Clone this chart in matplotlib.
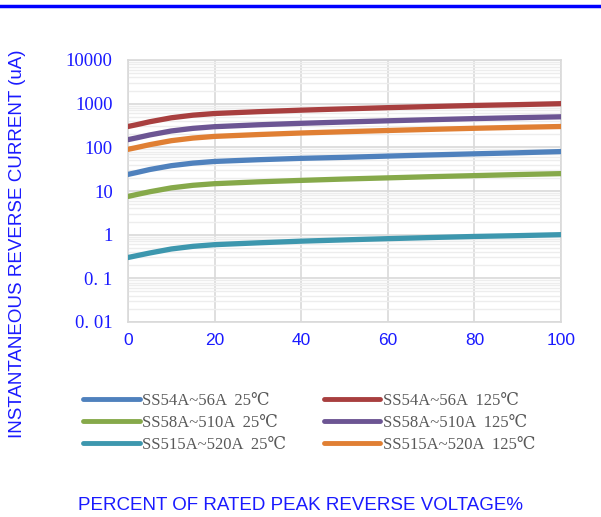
import numpy as np
import matplotlib
matplotlib.use("Agg")
import matplotlib.pyplot as plt
from matplotlib.ticker import LogLocator, FixedLocator, NullFormatter
from matplotlib.lines import Line2D

# percent of rated peak reverse voltage
volt_pct = [0, 2, 5, 10, 15, 20, 30, 40, 50, 60, 70, 80, 90, 100]

ss54_25 = [24, 26.5, 31, 38, 43.5, 47.5, 52, 56, 59, 63, 67, 71, 75, 80]
ss58_25 = [7.5, 8.3, 9.6, 11.8, 13.5, 14.7, 16.2, 17.5, 18.8, 20, 21.3, 22.5, 23.8, 25]
ss515_25 = [0.30, 0.33, 0.38, 0.47, 0.54, 0.59, 0.65, 0.71, 0.76, 0.81, 0.86, 0.91, 0.95, 1.0]
ss54_125 = [300, 330, 385, 475, 545, 595, 655, 710, 760, 810, 860, 910, 950, 1000]
ss58_125 = [150, 165, 192, 237, 272, 297, 328, 355, 380, 405, 430, 455, 478, 500]
ss515_125 = [90, 99, 115, 142, 163, 178, 196, 213, 228, 243, 258, 273, 287, 300]

labels = ["SS54A~56A  25\u2103", "SS58A~510A  25\u2103", "SS515A~520A  25\u2103",
          "SS54A~56A  125\u2103", "SS58A~510A  125\u2103", "SS515A~520A  125\u2103"]
series = [ss54_25, ss58_25, ss515_25, ss54_125, ss58_125, ss515_125]
colors = ["#4f81bd", "#86a94a", "#3d97ae", "#a83f3f", "#6c5593", "#e07f33"]

ytick_vals = [0.01, 0.1, 1, 10, 100, 1000, 10000]
ytick_labels = ["0. 01", "0. 1", "1", "10", "100", "1000", "10000"]
xtick_vals = [0, 20, 40, 60, 80, 100]

blue_txt = "#1a1aff"
serif = ["Liberation Serif", "DejaVu Serif"]

fig = plt.figure(figsize=(6.01, 5.17), dpi=100)
ax = fig.add_axes([128 / 601, 1 - 322 / 517, (561 - 128) / 601, (322 - 60) / 517])

for vals, c in zip(series, colors):
    ax.plot(volt_pct, vals, color=c, lw=3.8, solid_capstyle="round", zorder=3)

ax.set_yscale("log")
ax.set_ylim(0.01, 10000)
ax.set_xlim(0, 100)
ax.yaxis.set_major_locator(FixedLocator(ytick_vals))
ax.set_yticklabels(ytick_labels, family=serif, fontsize=13.5, color=blue_txt)
ax.yaxis.set_minor_locator(LogLocator(base=10, subs=np.arange(2, 10)))
ax.yaxis.set_minor_formatter(NullFormatter())
ax.set_xticks(xtick_vals)
ax.set_xticklabels([str(v) for v in xtick_vals], fontsize=12.5, color=blue_txt,
                   family="Liberation Sans")
ax.tick_params(axis="both", which="both", length=0)
ax.tick_params(axis="y", pad=11)
ax.tick_params(axis="x", pad=8)

ax.grid(True, which="major", color="#d9d9d9", lw=1.2, zorder=1)
ax.grid(True, which="minor", axis="y", color="#ededed", lw=1.0, zorder=0)
for s in ax.spines.values():
    s.set_color("#d9d9d9")
    s.set_linewidth(1.2)

# top blue rule
fig.add_artist(Line2D([0, 1], [1 - 6 / 517, 1 - 6 / 517], color="#0000ff", lw=2.5))

fig.text(18 / 601, 1 - 244 / 517, "INSTANTANEOUS REVERSE CURRENT (uA)", rotation=90,
         ha="center", va="center", fontsize=13.5, color=blue_txt, family="Liberation Sans")
fig.text(301 / 601, 1 - 505 / 517, "PERCENT OF RATED PEAK REVERSE VOLTAGE%",
         ha="center", va="center", fontsize=13.5, color=blue_txt, family="Liberation Sans")

# legend, two columns of three
handles = [Line2D([], [], color=c, lw=3.5, solid_capstyle="round") for c in colors]
leg = fig.legend(handles, labels, ncol=2, loc="upper left",
                 bbox_to_anchor=(68 / 601, 1 - 378 / 517), frameon=False,
                 handlelength=3.4, handletextpad=0.15, columnspacing=2.25,
                 labelspacing=0.35, prop={"family": serif, "size": 12})
for t in leg.get_texts():
    t.set_color("#595959")

fig.savefig("out.png", dpi=100)
